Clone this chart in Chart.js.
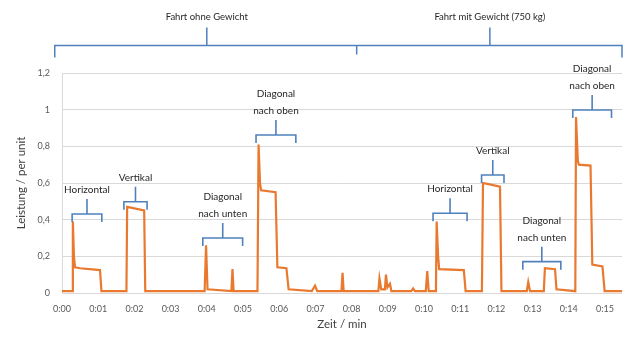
<!DOCTYPE html>
<html>
<head>
<meta charset="utf-8">
<script src="https://cdn.jsdelivr.net/npm/chart.js@4.4.1/dist/chart.umd.min.js"></script>
<style>
  html, body { margin: 0; padding: 0; background: #fff; }
  #wrap { width: 624px; height: 345px; }
</style>
</head>
<body>
<div id="wrap"><canvas id="leistung"></canvas></div>
<script>
// Zeit in Minuten, Leistung in per unit
const zeit = [
  0, 0.28, 0.30, 0.33, 0.36, 0.5, 1.05, 1.09,
  1.78, 1.80, 2.27, 2.30,
  3.94, 3.98, 4.02, 4.68, 4.71, 4.74,
  5.40, 5.43, 5.47, 5.50, 5.90, 5.95, 6.20, 6.26,
  6.90, 6.99, 7.05, 7.72, 7.75, 7.78,
  8.74, 8.77, 8.82, 8.92, 8.95, 8.99, 9.06, 9.10,
  9.65, 9.70, 9.75, 10.05, 10.09, 10.13,
  10.33, 10.35, 10.39, 10.42, 11.10, 11.15,
  11.60, 11.63, 11.75, 12.10, 12.14,
  12.84, 12.88, 12.93, 13.31, 13.34, 13.62, 13.66,
  14.18, 14.20, 14.25, 14.28, 14.60, 14.65, 14.93, 14.99, 15.47
];
const leistung = [
  0.01, 0.01, 0.39, 0.20, 0.14, 0.135, 0.125, 0.01,
  0.01, 0.47, 0.45, 0.01,
  0.01, 0.26, 0.02, 0.01, 0.13, 0.01,
  0.01, 0.81, 0.60, 0.56, 0.55, 0.14, 0.135, 0.02,
  0.01, 0.04, 0.01, 0.01, 0.11, 0.01,
  0.01, 0.08, 0.02, 0.02, 0.10, 0.03, 0.05, 0.01,
  0.01, 0.025, 0.01, 0.01, 0.12, 0.01,
  0.01, 0.39, 0.20, 0.13, 0.125, 0.01,
  0.01, 0.60, 0.595, 0.58, 0.01,
  0.01, 0.06, 0.01, 0.01, 0.135, 0.13, 0.02,
  0.01, 0.96, 0.72, 0.70, 0.695, 0.155, 0.145, 0.01, 0.01
];

// Klammern über den Fahrabschnitten
const klammerText = [['Horizontal'], ['Vertikal'], ['Diagonal', 'nach unten'], ['Diagonal', 'nach oben'],
                     ['Horizontal'], ['Vertikal'], ['Diagonal', 'nach unten'], ['Diagonal', 'nach oben']];
const klammerVon = [0.28, 1.71, 3.89, 5.36, 10.25, 11.59, 12.73, 14.11];
const klammerBis = [1.10, 2.35, 4.99, 6.46, 11.19, 12.21, 13.78, 15.18];
const klammerHoehe = [0.431, 0.498, 0.30, 0.862, 0.435, 0.644, 0.171, 0.998];

// obere Klammer
const fahrtText = ['Fahrt ohne Gewicht', 'Fahrt mit Gewicht (750 kg)'];
const fahrtMitte = [4.0, 11.82];
const fahrtGrenzen = [-0.2, 8.14, 15.47];

const blau = '#4f81bd';
const schrift = 'Lato, "Liberation Sans", sans-serif';

const klammerPlugin = {
  id: 'klammern',
  afterDatasetsDraw(chart) {
    const ctx = chart.ctx;
    const x = chart.scales.x, y = chart.scales.y;
    ctx.save();
    ctx.strokeStyle = blau;
    ctx.lineWidth = 1.6;
    ctx.fillStyle = '#262626';
    ctx.font = '10px ' + schrift;
    ctx.textAlign = 'center';
    ctx.textBaseline = 'middle';
    klammerText.forEach((txt, i) => {
      const x1 = x.getPixelForValue(klammerVon[i]);
      const x2 = x.getPixelForValue(klammerBis[i]);
      const yy = y.getPixelForValue(klammerHoehe[i]);
      const xm = (x1 + x2) / 2;
      ctx.beginPath();
      ctx.moveTo(x1, yy + 8); ctx.lineTo(x1, yy); ctx.lineTo(x2, yy); ctx.lineTo(x2, yy + 8);
      ctx.moveTo(xm, yy); ctx.lineTo(xm, yy - 15);
      ctx.stroke();
      const n = txt.length;
      txt.forEach((t, k) => {
        ctx.fillText(t, xm, yy - 24 - (n - 1 - k) * 17);
      });
    });

    // Fahrt ohne / mit Gewicht
    const yb = 45.5;
    const xs = fahrtGrenzen.map(v => x.getPixelForValue(v));
    ctx.lineWidth = 1.5;
    ctx.beginPath();
    ctx.moveTo(xs[0], yb + 12); ctx.lineTo(xs[0], yb); ctx.lineTo(xs[2], yb); ctx.lineTo(xs[2], yb + 12);
    ctx.moveTo(xs[1], yb); ctx.lineTo(xs[1], yb + 9);
    fahrtMitte.forEach(v => {
      const xp = x.getPixelForValue(v);
      ctx.moveTo(xp, yb); ctx.lineTo(xp, yb - 18);
    });
    ctx.stroke();
    ctx.font = '9.5px ' + schrift;
    fahrtText.forEach((t, i) => {
      ctx.fillText(t, x.getPixelForValue(fahrtMitte[i]), 17);
    });
    ctx.restore();
  }
};

const punkte = zeit.map((t, i) => ({ x: t, y: leistung[i] }));

new Chart(document.getElementById('leistung'), {
  type: 'line',
  data: {
    datasets: [{
      data: punkte,
      borderColor: '#e8792f',
      borderWidth: 2.2,
      pointRadius: 0,
      tension: 0,
      fill: false
    }]
  },
  options: {
    responsive: true,
    maintainAspectRatio: false,
    animation: false,
    layout: { padding: { top: 73, right: 2, left: 14, bottom: 14 } },
    plugins: { legend: { display: false }, tooltip: { enabled: false } },
    scales: {
      x: {
        type: 'linear',
        min: 0,
        max: 15.47,
        grid: { display: false },
        border: { display: false },
        ticks: {
          stepSize: 1,
          includeBounds: false,
          maxRotation: 0,
          padding: 3,
          color: '#595959',
          font: { family: schrift, size: 9 },
          callback: v => '0:' + String(v).padStart(2, '0')
        },
        title: {
          display: true,
          text: 'Zeit / min',
          color: '#404040',
          font: { family: schrift, size: 11.5 },
          padding: { top: 2, bottom: 0 }
        },
        afterFit: s => { s.height = 38; }
      },
      y: {
        min: 0,
        max: 1.2,
        grid: { color: '#d9d9d9', drawTicks: false },
        border: { display: true, color: '#d9d9d9' },
        ticks: {
          stepSize: 0.2,
          padding: 12,
          color: '#595959',
          font: { family: schrift, size: 9 },
          callback: v => String(Number(v.toFixed(1))).replace('.', ',')
        },
        title: {
          display: true,
          text: 'Leistung / per unit',
          color: '#404040',
          font: { family: schrift, size: 11.5 },
          padding: 0
        },
        afterFit: s => { s.width = 48; }
      }
    }
  },
  plugins: [klammerPlugin]
});
</script>
</body>
</html>
